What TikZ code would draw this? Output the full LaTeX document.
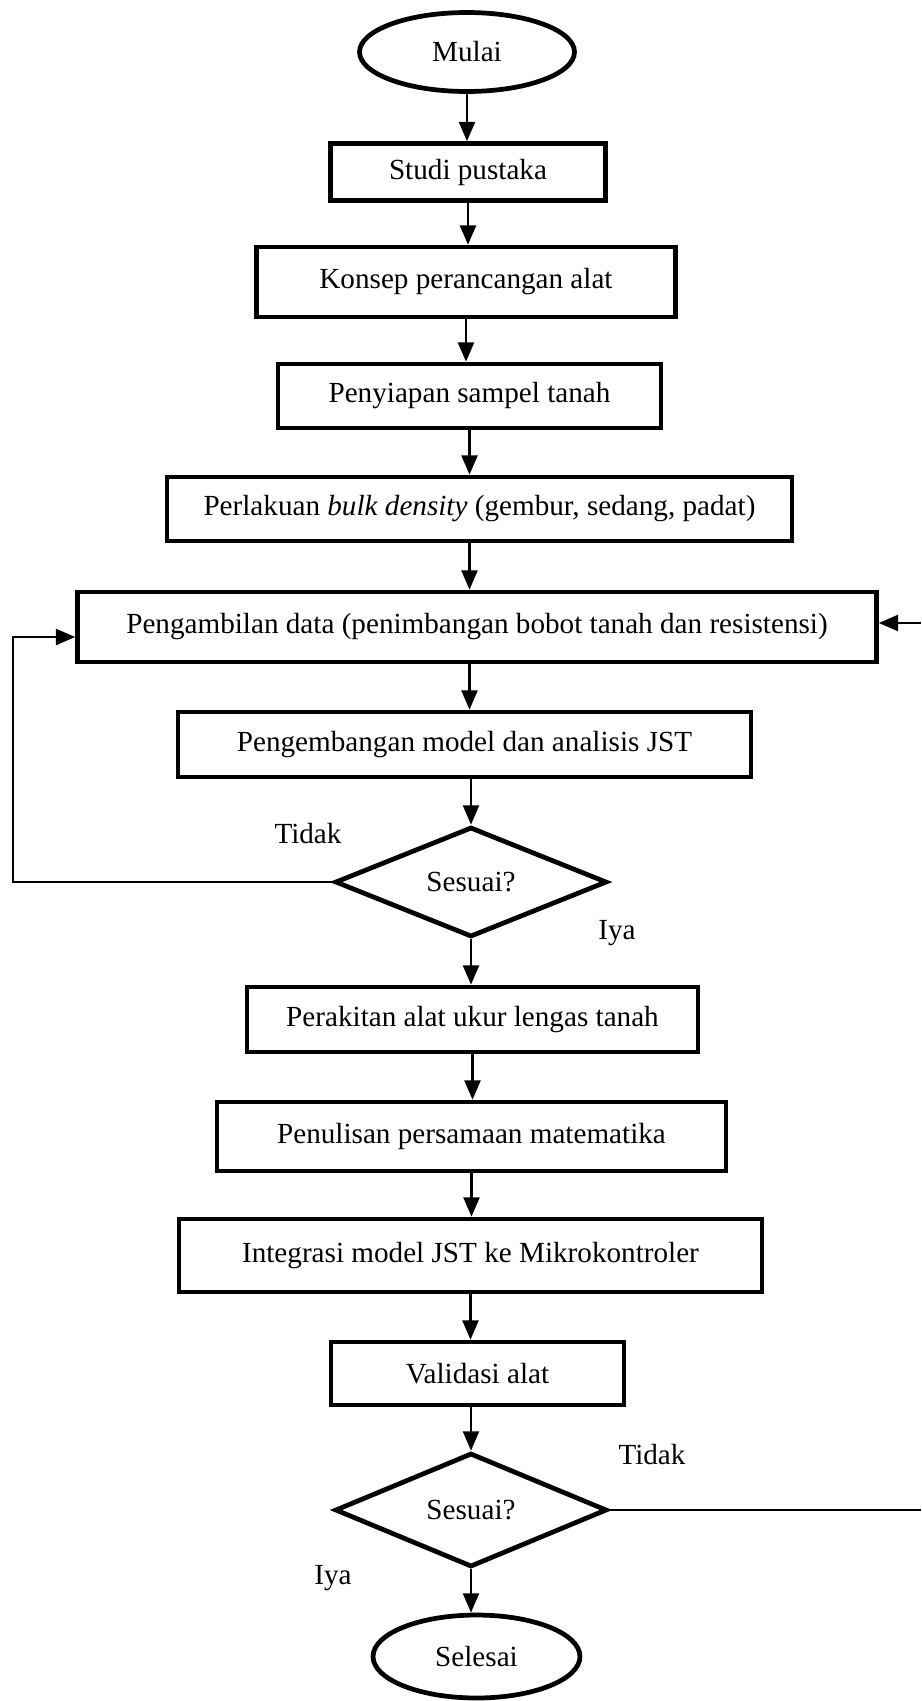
\documentclass[tikz,border=0pt]{standalone}
\usepackage{fontspec}
\setmainfont{Liberation Serif}
\usetikzlibrary{shapes.geometric,arrows.meta}

\tikzset{
  every node/.style={font=\fontsize{16.6}{19}\selectfont},
  proses/.style={draw,line width=2.6pt,rectangle,inner sep=0pt},
  terminal/.style={draw,line width=2.7pt,ellipse,inner sep=0pt},
  keputusan/.style={draw,line width=2.7pt,diamond,inner sep=0pt},
  arr/.style={-{Triangle[length=11pt,width=9pt]},line width=1.6pt},
  garis/.style={line width=1.6pt},
}

\begin{document}
\begin{tikzpicture}[x=0.02cm,y=-0.02cm]
\useasboundingbox (0,0) rectangle (921,1701);

% alur utama
\node[terminal,minimum width=4.3cm,minimum height=1.58cm] (mulai) at (467,52) {Mulai};
\node[proses,minimum width=5.5cm,minimum height=1.14cm] (studi) at (468,172) {Studi pustaka};
\node[proses,minimum width=8.38cm,minimum height=1.4cm] (konsep) at (466,282) {Konsep perancangan alat};
\node[proses,minimum width=7.66cm,minimum height=1.28cm] (siap) at (469.5,396) {Penyiapan sampel tanah};
\node[proses,minimum width=12.5cm,minimum height=1.28cm] (lakuan) at (479.5,509) {Perlakuan \textit{bulk density} (gembur, sedang, padat)};
\node[proses,minimum width=15.98cm,minimum height=1.4cm] (ambil) at (477,627) {Pengambilan data (penimbangan bobot tanah dan resistensi)};
\node[proses,minimum width=11.46cm,minimum height=1.3cm] (kembang) at (464.5,744.5) {Pengembangan model dan analisis JST};
\node[keputusan,minimum width=5.44cm,minimum height=2.2cm] (sesuaiA) at (471,882) {Sesuai?};
\node[proses,minimum width=9.02cm,minimum height=1.3cm] (rakit) at (472.5,1019.5) {Perakitan alat ukur lengas tanah};
\node[proses,minimum width=10.18cm,minimum height=1.38cm] (tulis) at (471.5,1136.5) {Penulisan persamaan matematika};
\node[proses,minimum width=11.66cm,minimum height=1.46cm] (integrasi) at (470.5,1255.5) {Integrasi model JST ke Mikrokontroler};
\node[proses,minimum width=5.86cm,minimum height=1.26cm] (validasi) at (477.5,1373.5) {Validasi alat};
\node[keputusan,minimum width=5.44cm,minimum height=2.28cm] (sesuaiB) at (471,1510) {Sesuai?};
\node[terminal,minimum width=4.14cm,minimum height=1.66cm] (selesai) at (476.5,1656.5) {Selesai};

% label cabang
\node (tidakA) at (308,834) {Tidak};
\node (iyaA) at (617,933) {Iya};
\node (tidakB) at (652,1455) {Tidak};
\node (iyaB) at (333,1578) {Iya};

\draw[arr] (mulai) -- (mulai |- studi.north);
\draw[arr] (studi) -- (studi |- konsep.north);
\draw[arr] (konsep) -- (konsep |- siap.north);
\draw[arr] (siap) -- (siap |- lakuan.north);
\draw[arr] (lakuan.south -| siap) -- (siap |- ambil.north);
\draw[arr] (ambil.south -| siap) -- (siap |- kembang.north);
\draw[arr] (kembang.south -| sesuaiA) -- (sesuaiA.north);
\draw[arr] (sesuaiA) -- (sesuaiA |- rakit.north);
\draw[arr] (rakit) -- (rakit |- tulis.north);
\draw[arr] (tulis) -- (tulis |- integrasi.north);
\draw[arr] (integrasi) -- (integrasi |- validasi.north);
\draw[arr] (validasi.south -| sesuaiB) -- (sesuaiB.north);
\draw[arr] (sesuaiB) -- (sesuaiB |- selesai.north);

% umpan balik
\coordinate (kiri) at (13,882);
\coordinate (tepi) at (921,0);
\draw[arr] (sesuaiA.west) -- (kiri) |- ([yshift=-0.2cm]ambil.west);
\draw[garis] (sesuaiB.east) -- (sesuaiB.east -| tepi);
\draw[arr] ([yshift=0.08cm]ambil.east -| tepi) -- ([yshift=0.08cm]ambil.east);
\end{tikzpicture}
\end{document}
